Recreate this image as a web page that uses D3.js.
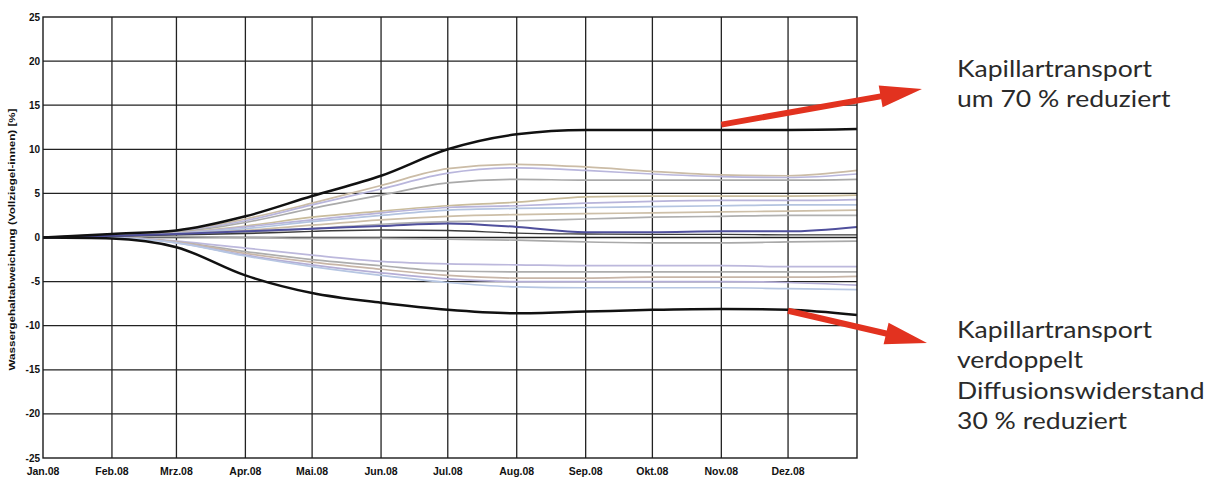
<!DOCTYPE html>
<html>
<head>
<meta charset="utf-8">
<script src="https://cdn.jsdelivr.net/npm/d3@7/dist/d3.min.js"></script>
<style>
  html, body { margin: 0; padding: 0; background: #fff; }
  svg { display: block; }
</style>
</head>
<body>
<svg id="chart" width="1213" height="477"></svg>
<script>
// Month boundaries of the simulated year (values are sampled on the 1st of each month)
const dates = ["2008-01-01","2008-02-01","2008-03-01","2008-04-01","2008-05-01","2008-06-01",
               "2008-07-01","2008-08-01","2008-09-01","2008-10-01","2008-11-01","2008-12-01","2009-01-01"];
const monthLabels = ["Jan.08","Feb.08","Mrz.08","Apr.08","Mai.08","Jun.08",
                     "Jul.08","Aug.08","Sep.08","Okt.08","Nov.08","Dez.08"];
const yTicks = [25, 20, 15, 10, 5, 0, -5, -10, -15, -20, -25];

// Water-content deviation [%] per variant
const reducedCapillary = [0, 0.4, 0.8, 2.4, 4.7, 7.0, 10.0, 11.7, 12.2, 12.2, 12.2, 12.2, 12.3];
const doubledCapillary = [0, -0.1, -1.1, -4.3, -6.3, -7.4, -8.2, -8.6, -8.4, -8.2, -8.1, -8.2, -8.8];
const baseVariant      = [0, 0.2, 0.4, 0.7, 1.0, 1.3, 1.6, 1.2, 0.6, 0.6, 0.7, 0.7, 1.2];
const nearZeroDark     = [0, 0.15, 0.3, 0.45, 0.7, 0.85, 0.8, 0.5, 0.4, 0.35, 0.35, 0.3, 0.3];

const upperA = [0, 0.35, 0.7, 2.1, 3.9, 5.9, 7.8, 8.3, 8.0, 7.5, 7.1, 7.0, 7.6];
const upperB = [0, 0.35, 0.65, 1.9, 3.7, 5.5, 7.3, 7.9, 7.6, 7.2, 6.9, 6.8, 7.2];
const upperC = [0, 0.3, 0.6, 1.7, 3.3, 4.8, 6.2, 6.6, 6.5, 6.5, 6.5, 6.5, 6.6];
const midA   = [0, 0.3, 0.55, 1.3, 2.3, 3.0, 3.6, 4.0, 4.6, 4.7, 4.7, 4.7, 4.8];
const midB   = [0, 0.25, 0.5, 1.2, 2.0, 2.8, 3.4, 3.6, 3.9, 4.1, 4.2, 4.2, 4.3];
const midC   = [0, 0.25, 0.45, 1.0, 1.8, 2.5, 3.1, 3.3, 3.4, 3.5, 3.6, 3.7, 3.7];
const midD   = [0, 0.2, 0.4, 0.8, 1.4, 2.0, 2.4, 2.6, 2.7, 2.8, 2.9, 3.0, 3.1];
const midE   = [0, 0.2, 0.35, 0.6, 1.0, 1.5, 1.8, 1.9, 2.1, 2.3, 2.4, 2.5, 2.5];
const zeroA  = [0, 0.1, 0.1, 0.0, -0.1, -0.1, -0.2, -0.3, -0.5, -0.6, -0.6, -0.5, -0.4];
const lowerA = [0, 0.05, -0.4, -1.2, -2.0, -2.7, -3.0, -3.1, -3.2, -3.2, -3.2, -3.3, -3.3];
const lowerB = [0, 0.05, -0.5, -1.6, -2.5, -3.2, -3.8, -3.9, -3.9, -3.9, -3.9, -3.9, -3.9];
const lowerC = [0, 0.0, -0.5, -1.8, -2.8, -3.6, -4.3, -4.6, -4.6, -4.5, -4.5, -4.5, -4.4];
const lowerD = [0, 0.0, -0.6, -2.0, -3.1, -4.0, -4.7, -5.0, -5.0, -5.0, -5.0, -5.1, -5.4];
const lowerE = [0, -0.05, -0.6, -2.1, -3.3, -4.3, -5.1, -5.6, -5.7, -5.7, -5.7, -5.8, -5.9];

const lightSeries = [
  { values: upperA, color: "#cbbca6" },
  { values: upperB, color: "#b9b6dc" },
  { values: upperC, color: "#aaaaaa" },
  { values: midA,   color: "#c9bc9c" },
  { values: midB,   color: "#b8b4da" },
  { values: midC,   color: "#b4c4e0" },
  { values: midD,   color: "#cdbfa8" },
  { values: midE,   color: "#b0b0b0" },
  { values: zeroA,  color: "#a9a9a9" },
  { values: lowerA, color: "#bcb8dc" },
  { values: lowerB, color: "#adadad" },
  { values: lowerC, color: "#c8b6a8" },
  { values: lowerD, color: "#b4aed6" },
  { values: lowerE, color: "#b6c6e2" }
];
const darkSeries = [
  { values: nearZeroDark,     color: "#3a3a3a", width: 1.4 },
  { values: baseVariant,      color: "#4f4f9c", width: 2.0 },
  { values: reducedCapillary, color: "#111111", width: 2.5 },
  { values: doubledCapillary, color: "#111111", width: 2.5 }
];

const svg = d3.select("#chart");
const parse = d3.timeParse("%Y-%m-%d");
const dateObjs = dates.map(parse);

const x = d3.scaleTime().domain([dateObjs[0], dateObjs[dateObjs.length - 1]]).range([43, 857]);
const y = d3.scaleLinear().domain([-25, 25]).range([458, 17]);

// Grid
const grid = svg.append("g").attr("stroke", "#222").attr("stroke-width", 1.3);
grid.selectAll("line.v").data(dateObjs.slice(1, -1)).join("line")
  .attr("x1", d => x(d)).attr("x2", d => x(d))
  .attr("y1", y(25)).attr("y2", y(-25));
grid.selectAll("line.h").data(yTicks.slice(1, -1)).join("line")
  .attr("x1", x.range()[0]).attr("x2", x.range()[1])
  .attr("y1", d => y(d)).attr("y2", d => y(d));

// Curves
const line = d3.line()
  .x((d, i) => x(dateObjs[i]))
  .y(d => y(d))
  .curve(d3.curveMonotoneX);

svg.append("g").attr("fill", "none").selectAll("path").data(lightSeries).join("path")
  .attr("d", d => line(d.values))
  .attr("stroke", d => d.color)
  .attr("stroke-width", 1.7);

svg.append("g").attr("fill", "none").selectAll("path").data(darkSeries).join("path")
  .attr("d", d => line(d.values))
  .attr("stroke", d => d.color)
  .attr("stroke-width", d => d.width);

// Frame
svg.append("rect")
  .attr("x", x.range()[0]).attr("y", y(25))
  .attr("width", x.range()[1] - x.range()[0]).attr("height", y(-25) - y(25))
  .attr("fill", "none").attr("stroke", "#1a1a1a").attr("stroke-width", 1.4);

// Axis labels
const tickFont = "'Liberation Sans Narrow', 'Arial Narrow', 'Liberation Sans', Arial, sans-serif";
svg.append("g").selectAll("text").data(yTicks).join("text")
  .attr("x", 40).attr("y", d => y(d) + 3.5)
  .attr("text-anchor", "end")
  .attr("font-family", tickFont).attr("font-weight", "bold").attr("font-size", 10)
  .attr("fill", "#111")
  .text(d => d);

svg.append("g").selectAll("text").data(monthLabels).join("text")
  .attr("x", (d, i) => x(dateObjs[i]))
  .attr("y", 475)
  .attr("text-anchor", "middle")
  .attr("font-family", tickFont).attr("font-weight", "bold").attr("font-size", 10.5)
  .attr("fill", "#111")
  .text(d => d);

svg.append("text")
  .attr("transform", `translate(15, ${y(0) + 2}) rotate(-90)`)
  .attr("text-anchor", "middle")
  .attr("font-family", tickFont).attr("font-weight", "bold").attr("font-size", 9.5)
  .attr("textLength", 262).attr("lengthAdjust", "spacingAndGlyphs")
  .attr("fill", "#111")
  .text("Wassergehaltabweichung (Vollziegel-innen) [%]");

// Red arrows pointing from the extreme curves to their descriptions
const arrows = [
  { from: [x(parse("2008-11-01")), y(12.8)], to: [922, 89] },
  { from: [x(parse("2008-12-01")), y(-8.3)], to: [927, 343] }
];
const arrowG = svg.append("g").attr("fill", "#e2321f");
arrows.forEach(a => {
  const [x0, y0] = a.from, [x1, y1] = a.to;
  const len = Math.hypot(x1 - x0, y1 - y0);
  const ang = Math.atan2(y1 - y0, x1 - x0) * 180 / Math.PI;
  const head = 42, hw = 11, sw = 3;
  arrowG.append("path")
    .attr("transform", `translate(${x0},${y0}) rotate(${ang})`)
    .attr("d", `M0,${-sw} L${len - head},${-sw} L${len - head},${-hw} L${len},0 L${len - head},${hw} L${len - head},${sw} L0,${sw} Z`);
});

// Descriptions
const noteFont = "'Lato', 'Noto Sans', sans-serif";
const notes = [
  { lines: ["Kapillartransport", "um 70 % reduziert"], y0: 77 },
  { lines: ["Kapillartransport", "verdoppelt", "Diffusionswiderstand", "30 % reduziert"], y0: 338 }
];
notes.forEach(n => {
  const g = svg.append("g");
  const t = g.selectAll("text").data(n.lines).join("text")
    .attr("x", 0).attr("y", (d, i) => i * 30.3)
    .attr("font-family", noteFont).attr("font-size", 23.5).attr("font-weight", 400)
    .attr("fill", "#2a2a2a")
    .text(d => d);
  const w = t.nodes()[0].getComputedTextLength();
  const sx = 195 / w;
  g.attr("transform", `translate(957, ${n.y0}) scale(${sx}, 1)`);
});
</script>
</body>
</html>
